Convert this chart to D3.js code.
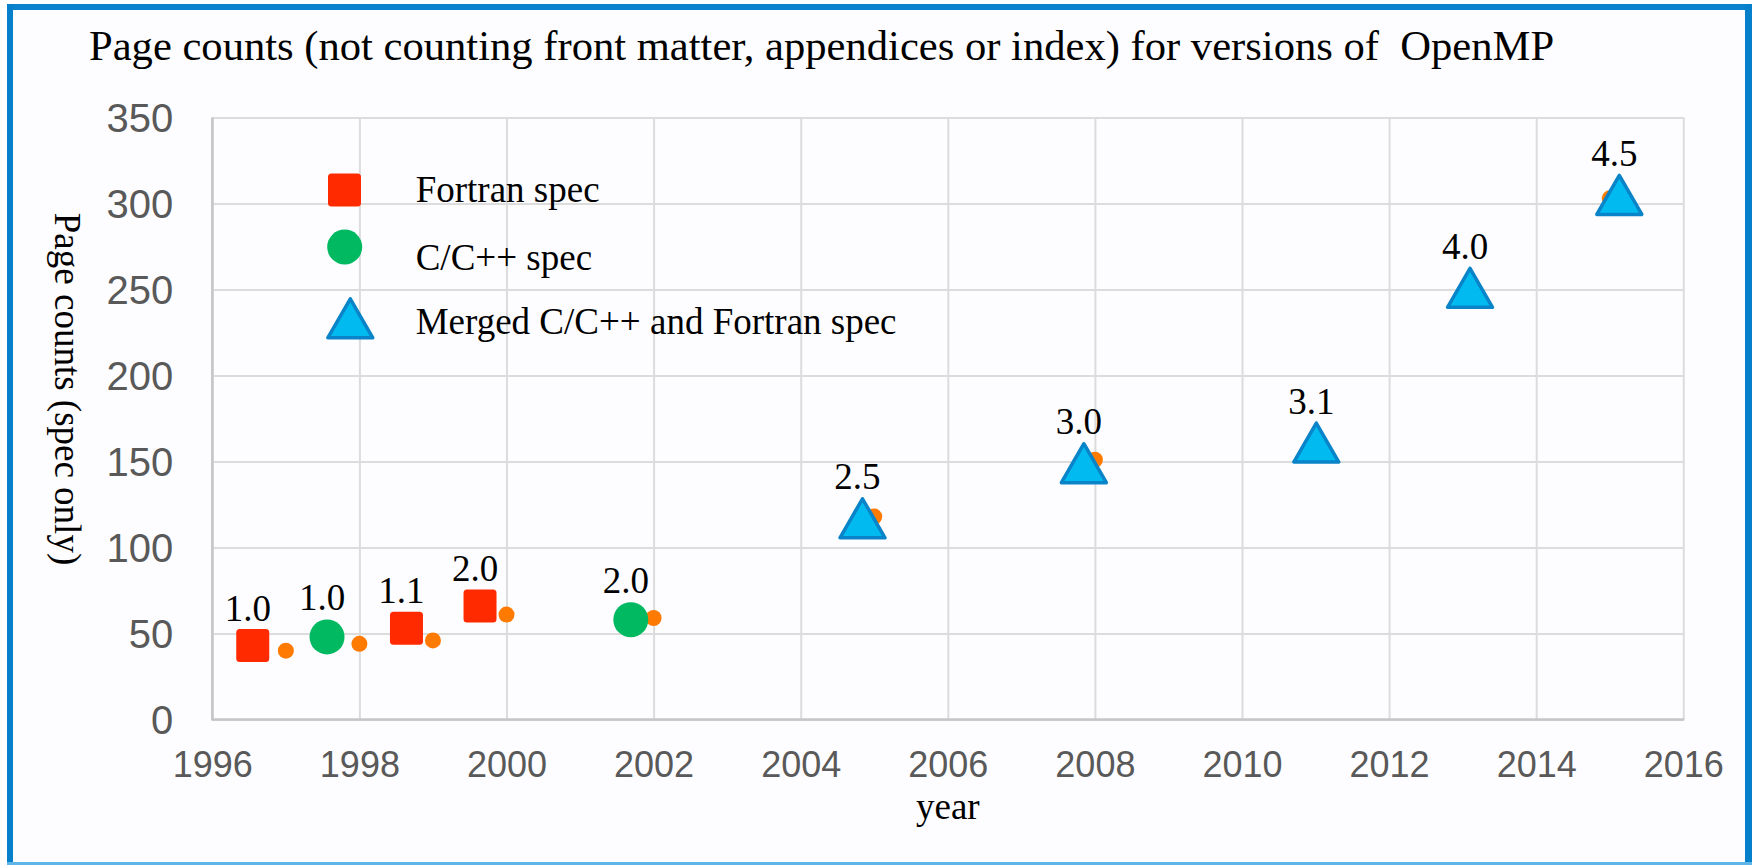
<!DOCTYPE html>
<html><head><meta charset="utf-8">
<script src="https://cdn.jsdelivr.net/npm/d3@7"></script>
<style>body{margin:0;background:#fff;} svg{display:block}</style>
</head><body>
<svg id="chart" width="1752" height="865"></svg>
<script>
// ---------- data ----------
const titleText = "Page counts (not counting front matter, appendices or index) for versions of\u00a0 OpenMP";
const xTitle = "year";
const yTitle = "Page counts (spec only)";
const xTicks = [1996, 1998, 2000, 2002, 2004, 2006, 2008, 2010, 2012, 2014, 2016];
const yTicks = [0, 50, 100, 150, 200, 250, 300, 350];

const fortranYears  = [1996.55, 1998.64, 1999.64];
const fortranPages  = [43, 53, 66];
const fortranLabels = ["1.0", "1.1", "2.0"];

const cYears  = [1997.56, 2001.69];
const cPages  = [48, 58];
const cLabels = ["1.0", "2.0"];

const mergedYears  = [2004.84, 2007.85, 2011.01, 2013.10, 2015.13];
const mergedPages  = [117, 149, 161, 251, 305];
const mergedLabels = ["2.5", "3.0", "3.1", "4.0", "4.5"];

// small orange points (unlabelled series)
const releaseYears = [1997.0, 1998.0, 1999.0, 2000.0, 2002.0, 2005.0, 2008.0, 2011.0, 2013.1, 2015.0];
const releasePages = [40, 44, 46, 61, 59, 118, 151, 161, 251, 303];

const legendNames = ["Fortran spec", "C/C++ spec", "Merged C/C++ and Fortran spec"];

// ---------- layout / style ----------
const W = 1752, H = 865;
const plot = {left: 212.3, right: 1683.3, top: 117.5, bottom: 719.5};
const RED = "#FF2A00", GREEN = "#00B961", ORANGE = "#FF7A00", BLUE = "#00BAF0", BLUE_EDGE = "#0A84C8";
const serif = "'Liberation Serif', 'Times New Roman', serif";
const sans = "'Liberation Sans', Arial, sans-serif";

const svg = d3.select("#chart");

// background and frame
svg.append("rect").attr("x", 0).attr("y", 0).attr("width", W).attr("height", H).attr("fill", "#ffffff");
svg.append("rect").attr("x", 13).attr("y", 10).attr("width", 1732).attr("height", 852).attr("fill", "#FDFDFF");
svg.append("rect").attr("x", 7).attr("y", 4).attr("width", 1745).attr("height", 6).attr("fill", "#0A82CC");
svg.append("rect").attr("x", 7).attr("y", 4).attr("width", 6).attr("height", 861).attr("fill", "#0680CA");
svg.append("rect").attr("x", 1745).attr("y", 4).attr("width", 7).attr("height", 861).attr("fill", "#0680CA");
svg.append("rect").attr("x", 7).attr("y", 862).attr("width", 1745).attr("height", 3).attr("fill", "#5EB6E6");

const x = d3.scaleLinear().domain([1996, 2016]).range([plot.left, plot.right]);
const y = d3.scaleLinear().domain([0, 350]).range([plot.bottom, plot.top]);

// gridlines
const gx = svg.append("g").attr("transform", `translate(0,${plot.bottom})`)
  .call(d3.axisBottom(x).tickValues(xTicks).tickSize(-(plot.bottom - plot.top)).tickFormat(""));
gx.select(".domain").remove();
gx.selectAll("line").attr("stroke", "#DCDCDC").attr("stroke-width", 2);

const gy = svg.append("g").attr("transform", `translate(${plot.left},0)`)
  .call(d3.axisLeft(y).tickValues(yTicks).tickSize(-(plot.right - plot.left)).tickFormat(""));
gy.select(".domain").remove();
gy.selectAll("line").attr("stroke", "#DCDCDC").attr("stroke-width", 2);

// axis lines
svg.append("line").attr("x1", plot.left).attr("x2", plot.left).attr("y1", plot.top).attr("y2", plot.bottom + 1)
  .attr("stroke", "#C6C6C6").attr("stroke-width", 2.5);
svg.append("line").attr("x1", plot.left).attr("x2", plot.right + 1).attr("y1", plot.bottom).attr("y2", plot.bottom)
  .attr("stroke", "#C6C6C6").attr("stroke-width", 2.5);

// tick labels
const ax = svg.append("g").attr("transform", `translate(0,${plot.bottom})`)
  .call(d3.axisBottom(x).tickValues(xTicks).tickSize(0).tickPadding(32).tickFormat(d3.format("d")));
ax.select(".domain").remove();
ax.selectAll("text").attr("font-family", sans).attr("font-size", 36).attr("fill", "#595959");

const ay = svg.append("g").attr("transform", `translate(${plot.left},0)`)
  .call(d3.axisLeft(y).tickValues(yTicks).tickSize(0).tickPadding(39));
ay.select(".domain").remove();
ay.selectAll("text").attr("font-family", sans).attr("font-size", 40).attr("fill", "#595959").attr("dy", "0.36em");

// titles
svg.append("text").attr("x", 89).attr("y", 60).attr("font-family", serif).attr("font-size", 42.6)
  .attr("fill", "#000").text(titleText);
svg.append("text").attr("x", (plot.left + plot.right) / 2).attr("y", 819).attr("text-anchor", "middle")
  .attr("font-family", serif).attr("font-size", 37).attr("fill", "#000").text(xTitle);
svg.append("text").attr("transform", "translate(55,389) rotate(90)").attr("text-anchor", "middle")
  .attr("font-family", serif).attr("font-size", 37).attr("fill", "#000").text(yTitle);

// marker shapes
const SQ = 33, CR = 17.5;
const triPath = "M0,-19.5 L22.5,19.5 L-22.5,19.5 Z";
function drawSquare(g, cx, cy) {
  g.append("rect").attr("x", cx - SQ / 2).attr("y", cy - SQ / 2).attr("width", SQ).attr("height", SQ)
    .attr("rx", 3.5).attr("fill", RED);
}
function drawCircle(g, cx, cy) {
  g.append("circle").attr("cx", cx).attr("cy", cy).attr("r", CR).attr("fill", GREEN);
}
function drawTriangle(g, cx, cy) {
  g.append("path").attr("d", triPath).attr("transform", `translate(${cx},${cy})`)
    .attr("fill", BLUE).attr("stroke", BLUE_EDGE).attr("stroke-width", 3.5).attr("stroke-linejoin", "round");
}

const marks = svg.append("g");
// orange points underneath
releaseYears.forEach((yr, i) => {
  marks.append("circle").attr("cx", x(yr)).attr("cy", y(releasePages[i])).attr("r", 8).attr("fill", ORANGE);
});
fortranYears.forEach((yr, i) => drawSquare(marks, x(yr), y(fortranPages[i])));
cYears.forEach((yr, i) => drawCircle(marks, x(yr), y(cPages[i])));
mergedYears.forEach((yr, i) => drawTriangle(marks, x(yr), y(mergedPages[i])));

// data labels
const labels = svg.append("g").attr("font-family", serif).attr("font-size", 37).attr("fill", "#000")
  .attr("text-anchor", "middle");
function addLabels(years, pages, texts, dy) {
  years.forEach((yr, i) => {
    labels.append("text").attr("x", x(yr) - 5).attr("y", y(pages[i]) + dy).text(texts[i]);
  });
}
addLabels(fortranYears, fortranPages, fortranLabels, -25);
addLabels(cYears, cPages, cLabels, -27);
addLabels(mergedYears, mergedPages, mergedLabels, -29);

// legend
const legendMarkY = [190, 247, 318.3];
const legendTextY = [202, 270, 334];
const leg = svg.append("g");
drawSquare(leg, 344.5, legendMarkY[0]);
drawCircle(leg, 344.7, legendMarkY[1]);
drawTriangle(leg, 350.3, legendMarkY[2]);
legendNames.forEach((name, i) => {
  leg.append("text").attr("x", 415.7).attr("y", legendTextY[i]).attr("font-family", serif)
    .attr("font-size", 37).attr("fill", "#000").text(name);
});
</script>
</body></html>
